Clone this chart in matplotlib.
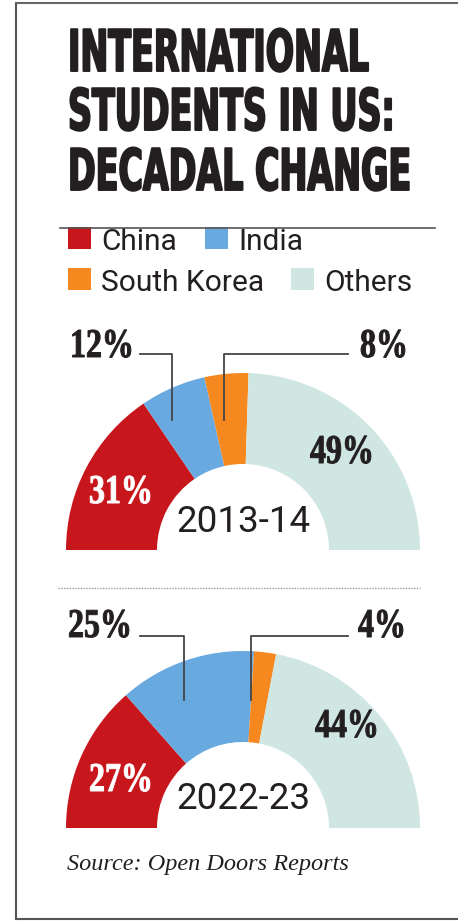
import matplotlib
matplotlib.use('Agg')
import matplotlib.pyplot as plt
from matplotlib.patches import Rectangle
from matplotlib.patheffects import AbstractPathEffect
from matplotlib.transforms import Affine2D

# data
categories = ['China', 'India', 'South Korea', 'Others']
colors = ['#c8161d', '#68a9e0', '#f5891f', '#cfe6e2']
years = ['2013-14', '2022-23']
share_2013 = [31, 12, 8, 49]
share_2022 = [27, 25, 4, 44]

ink = '#231f20'
W, H = 458, 923


class Stretch(AbstractPathEffect):
    # stretch glyphs about the text baseline/left edge, optional stroke to fatten
    def __init__(self, sx=1.0, sy=1.0, lw=0):
        super().__init__()
        self.sx = sx
        self.sy = sy
        self.lw = lw

    def draw_path(self, renderer, gc, tpath, affine, rgbFace=None):
        gc0 = renderer.new_gc()
        gc0.copy_properties(gc)
        if self.lw:
            gc0.set_linewidth(self.lw)
            gc0.set_foreground(rgbFace)
        renderer.draw_path(gc0, tpath, Affine2D().scale(self.sx, self.sy) + affine, rgbFace)
        gc0.restore()


fig = plt.figure(figsize=(W / 100, H / 100), dpi=100)
ax = fig.add_axes([0, 0, 1, 1])

# frame
ax.plot([16, 16], [3, 919], color='#555555', lw=1.5)
ax.plot([16, W], [3, 3], color='#666666', lw=1.5)
ax.plot([16, W], [919, 919], color='#555555', lw=1.5)

# title: tall condensed look = small size stretched upward
title = ['INTERNATIONAL', 'STUDENTS IN US:', 'DECADAL CHANGE']
for line, base in zip(title, [71, 130, 190]):
    ax.text(68, base, line, family='DejaVu Sans', weight='bold', size=24,
            color=ink, ha='left', va='baseline',
            path_effects=[Stretch(1.0, 1.72, 1.4)])

# legend (flowed, not a grid)
ax.plot([60, 435], [228, 228], color='#555555', lw=1.2, zorder=5)
leg_pos = [(68, 249), (205, 249), (68, 290), (291, 290)]
for (x, y), name, c in zip(leg_pos, categories, colors):
    ax.add_patch(Rectangle((x, y - 22), 23, 22, color=c, lw=0))
    ax.text(x + 33, y + 1, name, family='Roboto', size=21.5, color=ink,
            ha='left', va='baseline')


def half_donut(vals, cy):
    # y axis is inverted, so counterclock runs over the top
    ax.pie(vals + [sum(vals)], colors=colors + ['none'], center=(243, cy),
           radius=177, startangle=180, counterclock=True,
           wedgeprops=dict(width=91, linewidth=0))


def pct(x, y, v, c=ink):
    ax.text(x, y, f'{v}%', family='Liberation Serif', weight='bold', size=23,
            color=c, ha='left', va='baseline',
            path_effects=[Stretch(1.0, 1.28, 0.7)])


# 2013-14
half_donut(share_2013, 550)
pct(70, 357, share_2013[1])
pct(360, 357, share_2013[2])
pct(310, 463, share_2013[3])
pct(89, 503, share_2013[0], 'white')
ax.plot([140, 172, 172], [354, 354, 420], color='#444444', lw=1.3)
ax.plot([348, 224, 224], [354, 354, 420], color='#444444', lw=1.3)
ax.text(243, 532, years[0], family='Roboto', size=26.5, color=ink,
        ha='center', va='baseline')

# separator
ax.plot([58, 420], [588, 588], color='#999999', lw=1, ls=(0, (1, 1)))

# 2022-23
half_donut(share_2022, 828)
pct(68, 637, share_2022[1])
pct(358, 637, share_2022[2])
pct(315, 737, share_2022[3])
pct(89, 791, share_2022[0], 'white')
ax.plot([140, 184, 184], [636, 636, 700], color='#444444', lw=1.3)
ax.plot([348, 251, 251], [636, 636, 700], color='#444444', lw=1.3)
ax.text(243, 809, years[1], family='Roboto', size=26.5, color=ink,
        ha='center', va='baseline')

ax.text(67, 870, 'Source: Open Doors Reports', family='Liberation Serif',
        style='italic', size=17.5, color=ink, ha='left', va='baseline')

ax.set_xlim(0, W)
ax.set_ylim(H, 0)
ax.set_aspect('equal')
ax.axis('off')

fig.savefig('out.png', dpi=100)
